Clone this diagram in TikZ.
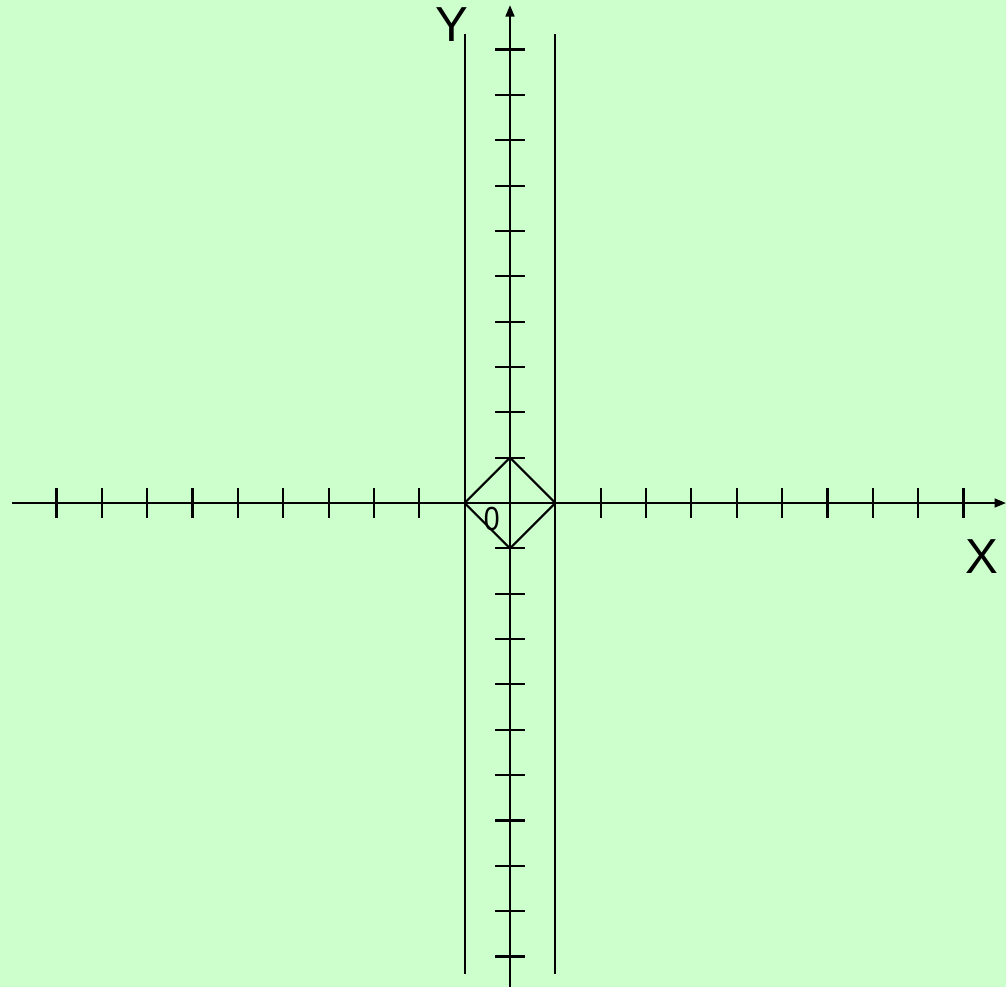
\documentclass[tikz,border=0pt]{standalone}
\usepackage{fontspec}
\setmainfont{Liberation Sans}
\usetikzlibrary{arrows.meta, positioning}
\definecolor{axBg}{HTML}{CCFFCC}
\tikzset{
  axisline/.style={-{Triangle[length=6.5pt, width=5pt]}, line width=1.2pt, black},
  tickmark/.style={line width=1.2pt, black},
  bound/.style={line width=1.2pt, black},
  rhomb/.style={line width=1.2pt, black, line join=miter},
  axlabel/.style={font=\fontsize{28}{30}\selectfont, inner sep=0pt},
  zerolabel/.style={font=\fontsize{19}{21}\selectfont, inner sep=0pt, xscale=0.85}
}
\begin{document}
\begin{tikzpicture}[x=0.907cm, y=0.907cm]
  % background and frame
  \fill[axBg] (-11.246,-10.672) rectangle (10.937,11.092);
  \useasboundingbox (-11.246,-10.672) rectangle (10.937,11.092);

  \coordinate (O) at (0,0);
  \coordinate (xL) at (-10.98,0);
  \coordinate (xR) at (10.937,0);
  \coordinate (yB) at (0,-10.672);
  \coordinate (yT) at (0,10.98);

  % ticks
  \foreach \k in {-10,...,-1,1,2,...,10} {
    \draw[tickmark] (\k,-0.33) -- (\k,0.33);
    \draw[tickmark] (-0.32,\k) -- (0.32,\k);
  }

  % axes
  \draw[axisline] (xL) -- (xR);
  \draw[axisline] (yB) -- (yT);

  % bounding lines
  \coordinate (lT) at (-1,10.34);
  \coordinate (lB) at (-1,-10.38);
  \coordinate (rT) at (1,10.34);
  \coordinate (rB) at (1,-10.38);
  \draw[bound] (lT) -- (lB);
  \draw[bound] (rT) -- (rB);

  % square
  \coordinate (dW) at (-1,0);
  \coordinate (dN) at (0,1);
  \coordinate (dE) at (1,0);
  \coordinate (dS) at (0,-1);
  \draw[rhomb] (dW) -- (dN) -- (dE) -- (dS) -- cycle;

  % labels
  \node[axlabel] (ylab) at (-1.28,10.54) {Y};
  \node[axlabel] (xlab) at (10.41,-1.17) {X};
  \node[zerolabel] (zlab) at (-0.40,-0.35) {0};
\end{tikzpicture}
\end{document}
